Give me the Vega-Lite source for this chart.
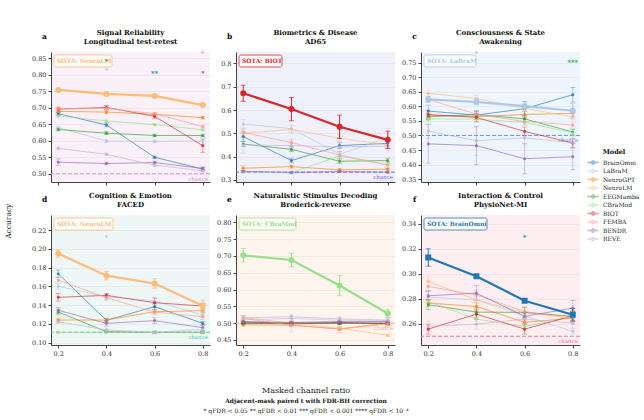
{
"$schema":"https://vega.github.io/schema/vega-lite/v6.json",
"padding":{"top":29,"left":5,"right":5,"bottom":5},
"config":{
 "font":"DejaVu Serif",
 "view":{"stroke":null},
 "axis":{"labelFontSize":6.5,"labelColor":"#333333","tickColor":"#444444","domainColor":"#444444","tickSize":3,"labelPadding":2,"labelOverlap":false,"gridColor":"#000000","gridOpacity":0.07,"gridWidth":0.6},
 "axisX":{"grid":false},
 "axisY":{"labelOverlap":false},
 "title":{"fontSize":7,"fontWeight":"bold","color":"#111111","offset":-13,"lineHeight":9}
},
"datasets":{
"acc":[
{"p":"a","m":"BrainOmni","x":0.2,"y":0.682,"e":0.004},{"p":"a","m":"BrainOmni","x":0.4,"y":0.648,"e":0.006},{"p":"a","m":"BrainOmni","x":0.6,"y":0.550,"e":0.004},{"p":"a","m":"BrainOmni","x":0.8,"y":0.514,"e":0.005},
{"p":"a","m":"LaBraM","x":0.2,"y":0.640,"e":0.004},{"p":"a","m":"LaBraM","x":0.4,"y":0.599,"e":0.004},{"p":"a","m":"LaBraM","x":0.6,"y":0.598,"e":0.004},{"p":"a","m":"LaBraM","x":0.8,"y":0.599,"e":0.01},
{"p":"a","m":"NeuroGPT","x":0.2,"y":0.689,"e":0.004},{"p":"a","m":"NeuroGPT","x":0.4,"y":0.687,"e":0.004},{"p":"a","m":"NeuroGPT","x":0.6,"y":0.680,"e":0.004},{"p":"a","m":"NeuroGPT","x":0.8,"y":0.670,"e":0.004},
{"p":"a","m":"NeuroLM","x":0.2,"y":0.754,"e":0.003},{"p":"a","m":"NeuroLM","x":0.4,"y":0.742,"e":0.003},{"p":"a","m":"NeuroLM","x":0.6,"y":0.736,"e":0.003},{"p":"a","m":"NeuroLM","x":0.8,"y":0.708,"e":0.003},
{"p":"a","m":"EEGMamba","x":0.2,"y":0.634,"e":0.004},{"p":"a","m":"EEGMamba","x":0.4,"y":0.623,"e":0.004},{"p":"a","m":"EEGMamba","x":0.6,"y":0.616,"e":0.004},{"p":"a","m":"EEGMamba","x":0.8,"y":0.616,"e":0.004},
{"p":"a","m":"CBraMod","x":0.2,"y":0.675,"e":0.003},{"p":"a","m":"CBraMod","x":0.4,"y":0.660,"e":0.003},{"p":"a","m":"CBraMod","x":0.6,"y":0.649,"e":0.003},{"p":"a","m":"CBraMod","x":0.8,"y":0.633,"e":0.003},
{"p":"a","m":"BIOT","x":0.2,"y":0.696,"e":0.006},{"p":"a","m":"BIOT","x":0.4,"y":0.701,"e":0.006},{"p":"a","m":"BIOT","x":0.6,"y":0.674,"e":0.006},{"p":"a","m":"BIOT","x":0.8,"y":0.585,"e":0.02},
{"p":"a","m":"FEMBA","x":0.2,"y":0.697,"e":0.004},{"p":"a","m":"FEMBA","x":0.4,"y":0.698,"e":0.004},{"p":"a","m":"FEMBA","x":0.6,"y":0.682,"e":0.004},{"p":"a","m":"FEMBA","x":0.8,"y":0.643,"e":0.004},
{"p":"a","m":"BENDR","x":0.2,"y":0.535,"e":0.01},{"p":"a","m":"BENDR","x":0.4,"y":0.531,"e":0.004},{"p":"a","m":"BENDR","x":0.6,"y":0.534,"e":0.004},{"p":"a","m":"BENDR","x":0.8,"y":0.516,"e":0.005},
{"p":"a","m":"REVE","x":0.2,"y":0.577,"e":0.004},{"p":"a","m":"REVE","x":0.4,"y":0.559,"e":0.004},{"p":"a","m":"REVE","x":0.6,"y":0.526,"e":0.004},{"p":"a","m":"REVE","x":0.8,"y":0.509,"e":0.004},
{"p":"b","m":"BrainOmni","x":0.2,"y":0.486,"e":0.02},{"p":"b","m":"BrainOmni","x":0.4,"y":0.383,"e":0.01},{"p":"b","m":"BrainOmni","x":0.6,"y":0.447,"e":0.012},{"p":"b","m":"BrainOmni","x":0.8,"y":0.457,"e":0.01},
{"p":"b","m":"LaBraM","x":0.2,"y":0.540,"e":0.02},{"p":"b","m":"LaBraM","x":0.4,"y":0.520,"e":0.015},{"p":"b","m":"LaBraM","x":0.6,"y":0.410,"e":0.01},{"p":"b","m":"LaBraM","x":0.8,"y":0.481,"e":0.04},
{"p":"b","m":"NeuroGPT","x":0.2,"y":0.350,"e":0.01},{"p":"b","m":"NeuroGPT","x":0.4,"y":0.357,"e":0.006},{"p":"b","m":"NeuroGPT","x":0.6,"y":0.343,"e":0.005},{"p":"b","m":"NeuroGPT","x":0.8,"y":0.346,"e":0.005},
{"p":"b","m":"NeuroLM","x":0.2,"y":0.500,"e":0.015},{"p":"b","m":"NeuroLM","x":0.4,"y":0.517,"e":0.015},{"p":"b","m":"NeuroLM","x":0.6,"y":0.479,"e":0.015},{"p":"b","m":"NeuroLM","x":0.8,"y":0.450,"e":0.015},
{"p":"b","m":"EEGMamba","x":0.2,"y":0.454,"e":0.01},{"p":"b","m":"EEGMamba","x":0.4,"y":0.431,"e":0.01},{"p":"b","m":"EEGMamba","x":0.6,"y":0.380,"e":0.01},{"p":"b","m":"EEGMamba","x":0.8,"y":0.383,"e":0.01},
{"p":"b","m":"CBraMod","x":0.2,"y":0.334,"e":0.005},{"p":"b","m":"CBraMod","x":0.4,"y":0.331,"e":0.005},{"p":"b","m":"CBraMod","x":0.6,"y":0.403,"e":0.005},{"p":"b","m":"CBraMod","x":0.8,"y":0.364,"e":0.005},
{"p":"b","m":"BIOT","x":0.2,"y":0.672,"e":0.034},{"p":"b","m":"BIOT","x":0.4,"y":0.604,"e":0.05},{"p":"b","m":"BIOT","x":0.6,"y":0.528,"e":0.05},{"p":"b","m":"BIOT","x":0.8,"y":0.472,"e":0.037},
{"p":"b","m":"FEMBA","x":0.2,"y":0.504,"e":0.015},{"p":"b","m":"FEMBA","x":0.4,"y":0.460,"e":0.015},{"p":"b","m":"FEMBA","x":0.6,"y":0.407,"e":0.015},{"p":"b","m":"FEMBA","x":0.8,"y":0.364,"e":0.015},
{"p":"b","m":"BENDR","x":0.2,"y":0.337,"e":0.004},{"p":"b","m":"BENDR","x":0.4,"y":0.332,"e":0.004},{"p":"b","m":"BENDR","x":0.6,"y":0.336,"e":0.004},{"p":"b","m":"BENDR","x":0.8,"y":0.333,"e":0.004},
{"p":"b","m":"REVE","x":0.2,"y":0.450,"e":0.035},{"p":"b","m":"REVE","x":0.4,"y":0.447,"e":0.02},{"p":"b","m":"REVE","x":0.6,"y":0.442,"e":0.02},{"p":"b","m":"REVE","x":0.8,"y":0.445,"e":0.02},
{"p":"c","m":"BrainOmni","x":0.2,"y":0.584,"e":0.02},{"p":"c","m":"BrainOmni","x":0.4,"y":0.570,"e":0.015},{"p":"c","m":"BrainOmni","x":0.6,"y":0.592,"e":0.025},{"p":"c","m":"BrainOmni","x":0.8,"y":0.640,"e":0.025},
{"p":"c","m":"LaBraM","x":0.2,"y":0.624,"e":0.01},{"p":"c","m":"LaBraM","x":0.4,"y":0.615,"e":0.01},{"p":"c","m":"LaBraM","x":0.6,"y":0.601,"e":0.015},{"p":"c","m":"LaBraM","x":0.8,"y":0.585,"e":0.025},
{"p":"c","m":"NeuroGPT","x":0.2,"y":0.570,"e":0.01},{"p":"c","m":"NeuroGPT","x":0.4,"y":0.565,"e":0.01},{"p":"c","m":"NeuroGPT","x":0.6,"y":0.572,"e":0.01},{"p":"c","m":"NeuroGPT","x":0.8,"y":0.576,"e":0.01},
{"p":"c","m":"NeuroLM","x":0.2,"y":0.645,"e":0.01},{"p":"c","m":"NeuroLM","x":0.4,"y":0.627,"e":0.01},{"p":"c","m":"NeuroLM","x":0.6,"y":0.593,"e":0.01},{"p":"c","m":"NeuroLM","x":0.8,"y":0.564,"e":0.01},
{"p":"c","m":"EEGMamba","x":0.2,"y":0.564,"e":0.01},{"p":"c","m":"EEGMamba","x":0.4,"y":0.572,"e":0.01},{"p":"c","m":"EEGMamba","x":0.6,"y":0.557,"e":0.01},{"p":"c","m":"EEGMamba","x":0.8,"y":0.512,"e":0.01},
{"p":"c","m":"CBraMod","x":0.2,"y":0.557,"e":0.01},{"p":"c","m":"CBraMod","x":0.4,"y":0.556,"e":0.01},{"p":"c","m":"CBraMod","x":0.6,"y":0.545,"e":0.01},{"p":"c","m":"CBraMod","x":0.8,"y":0.509,"e":0.01},
{"p":"c","m":"BIOT","x":0.2,"y":0.572,"e":0.015},{"p":"c","m":"BIOT","x":0.4,"y":0.562,"e":0.015},{"p":"c","m":"BIOT","x":0.6,"y":0.514,"e":0.015},{"p":"c","m":"BIOT","x":0.8,"y":0.474,"e":0.015},
{"p":"c","m":"FEMBA","x":0.2,"y":0.624,"e":0.01},{"p":"c","m":"FEMBA","x":0.4,"y":0.573,"e":0.01},{"p":"c","m":"FEMBA","x":0.6,"y":0.548,"e":0.01},{"p":"c","m":"FEMBA","x":0.8,"y":0.536,"e":0.01},
{"p":"c","m":"BENDR","x":0.2,"y":0.471,"e":0.066},{"p":"c","m":"BENDR","x":0.4,"y":0.465,"e":0.065},{"p":"c","m":"BENDR","x":0.6,"y":0.420,"e":0.052},{"p":"c","m":"BENDR","x":0.8,"y":0.427,"e":0.045},
{"p":"c","m":"REVE","x":0.2,"y":0.515,"e":0.025},{"p":"c","m":"REVE","x":0.4,"y":0.482,"e":0.05},{"p":"c","m":"REVE","x":0.6,"y":0.492,"e":0.025},{"p":"c","m":"REVE","x":0.8,"y":0.475,"e":0.02},
{"p":"d","m":"BrainOmni","x":0.2,"y":0.1734,"e":0.004},{"p":"d","m":"BrainOmni","x":0.4,"y":0.1238,"e":0.002},{"p":"d","m":"BrainOmni","x":0.6,"y":0.1383,"e":0.003},{"p":"d","m":"BrainOmni","x":0.8,"y":0.1206,"e":0.002},
{"p":"d","m":"LaBraM","x":0.2,"y":0.160,"e":0.003},{"p":"d","m":"LaBraM","x":0.4,"y":0.149,"e":0.003},{"p":"d","m":"LaBraM","x":0.6,"y":0.1444,"e":0.003},{"p":"d","m":"LaBraM","x":0.8,"y":0.1295,"e":0.003},
{"p":"d","m":"NeuroGPT","x":0.2,"y":0.1241,"e":0.002},{"p":"d","m":"NeuroGPT","x":0.4,"y":0.1241,"e":0.002},{"p":"d","m":"NeuroGPT","x":0.6,"y":0.133,"e":0.002},{"p":"d","m":"NeuroGPT","x":0.8,"y":0.1341,"e":0.002},
{"p":"d","m":"NeuroLM","x":0.2,"y":0.195,"e":0.004},{"p":"d","m":"NeuroLM","x":0.4,"y":0.1714,"e":0.0045},{"p":"d","m":"NeuroLM","x":0.6,"y":0.163,"e":0.005},{"p":"d","m":"NeuroLM","x":0.8,"y":0.1394,"e":0.006},
{"p":"d","m":"EEGMamba","x":0.2,"y":0.1327,"e":0.003},{"p":"d","m":"EEGMamba","x":0.4,"y":0.1117,"e":0.001},{"p":"d","m":"EEGMamba","x":0.6,"y":0.111,"e":0.001},{"p":"d","m":"EEGMamba","x":0.8,"y":0.111,"e":0.001},
{"p":"d","m":"CBraMod","x":0.2,"y":0.111,"e":0.001},{"p":"d","m":"CBraMod","x":0.4,"y":0.1112,"e":0.001},{"p":"d","m":"CBraMod","x":0.6,"y":0.111,"e":0.001},{"p":"d","m":"CBraMod","x":0.8,"y":0.111,"e":0.001},
{"p":"d","m":"BIOT","x":0.2,"y":0.1483,"e":0.004},{"p":"d","m":"BIOT","x":0.4,"y":0.1504,"e":0.002},{"p":"d","m":"BIOT","x":0.6,"y":0.1426,"e":0.005},{"p":"d","m":"BIOT","x":0.8,"y":0.139,"e":0.003},
{"p":"d","m":"FEMBA","x":0.2,"y":0.1667,"e":0.003},{"p":"d","m":"FEMBA","x":0.4,"y":0.1479,"e":0.003},{"p":"d","m":"FEMBA","x":0.6,"y":0.1326,"e":0.003},{"p":"d","m":"FEMBA","x":0.8,"y":0.1277,"e":0.003},
{"p":"d","m":"BENDR","x":0.2,"y":0.1344,"e":0.003},{"p":"d","m":"BENDR","x":0.4,"y":0.1206,"e":0.003},{"p":"d","m":"BENDR","x":0.6,"y":0.1234,"e":0.003},{"p":"d","m":"BENDR","x":0.8,"y":0.116,"e":0.003},
{"p":"d","m":"REVE","x":0.2,"y":0.1224,"e":0.002},{"p":"d","m":"REVE","x":0.4,"y":0.1135,"e":0.002},{"p":"d","m":"REVE","x":0.6,"y":0.111,"e":0.002},{"p":"d","m":"REVE","x":0.8,"y":0.114,"e":0.002},
{"p":"e","m":"BrainOmni","x":0.2,"y":0.500,"e":0.004},{"p":"e","m":"BrainOmni","x":0.4,"y":0.498,"e":0.004},{"p":"e","m":"BrainOmni","x":0.6,"y":0.500,"e":0.004},{"p":"e","m":"BrainOmni","x":0.8,"y":0.500,"e":0.004},
{"p":"e","m":"LaBraM","x":0.2,"y":0.511,"e":0.008},{"p":"e","m":"LaBraM","x":0.4,"y":0.514,"e":0.008},{"p":"e","m":"LaBraM","x":0.6,"y":0.509,"e":0.008},{"p":"e","m":"LaBraM","x":0.8,"y":0.508,"e":0.008},
{"p":"e","m":"NeuroGPT","x":0.2,"y":0.495,"e":0.004},{"p":"e","m":"NeuroGPT","x":0.4,"y":0.494,"e":0.004},{"p":"e","m":"NeuroGPT","x":0.6,"y":0.483,"e":0.004},{"p":"e","m":"NeuroGPT","x":0.8,"y":0.500,"e":0.004},
{"p":"e","m":"NeuroLM","x":0.2,"y":0.517,"e":0.006},{"p":"e","m":"NeuroLM","x":0.4,"y":0.500,"e":0.006},{"p":"e","m":"NeuroLM","x":0.6,"y":0.485,"e":0.006},{"p":"e","m":"NeuroLM","x":0.8,"y":0.464,"e":0.003},
{"p":"e","m":"EEGMamba","x":0.2,"y":0.500,"e":0.003},{"p":"e","m":"EEGMamba","x":0.4,"y":0.500,"e":0.003},{"p":"e","m":"EEGMamba","x":0.6,"y":0.500,"e":0.003},{"p":"e","m":"EEGMamba","x":0.8,"y":0.500,"e":0.003},
{"p":"e","m":"CBraMod","x":0.2,"y":0.702,"e":0.02},{"p":"e","m":"CBraMod","x":0.4,"y":0.688,"e":0.02},{"p":"e","m":"CBraMod","x":0.6,"y":0.612,"e":0.03},{"p":"e","m":"CBraMod","x":0.8,"y":0.529,"e":0.012},
{"p":"e","m":"BIOT","x":0.2,"y":0.503,"e":0.004},{"p":"e","m":"BIOT","x":0.4,"y":0.500,"e":0.004},{"p":"e","m":"BIOT","x":0.6,"y":0.502,"e":0.004},{"p":"e","m":"BIOT","x":0.8,"y":0.498,"e":0.004},
{"p":"e","m":"FEMBA","x":0.2,"y":0.514,"e":0.008},{"p":"e","m":"FEMBA","x":0.4,"y":0.494,"e":0.02},{"p":"e","m":"FEMBA","x":0.6,"y":0.482,"e":0.01},{"p":"e","m":"FEMBA","x":0.8,"y":0.498,"e":0.008},
{"p":"e","m":"BENDR","x":0.2,"y":0.505,"e":0.004},{"p":"e","m":"BENDR","x":0.4,"y":0.502,"e":0.004},{"p":"e","m":"BENDR","x":0.6,"y":0.505,"e":0.004},{"p":"e","m":"BENDR","x":0.8,"y":0.505,"e":0.004},
{"p":"e","m":"REVE","x":0.2,"y":0.516,"e":0.006},{"p":"e","m":"REVE","x":0.4,"y":0.519,"e":0.006},{"p":"e","m":"REVE","x":0.6,"y":0.513,"e":0.006},{"p":"e","m":"REVE","x":0.8,"y":0.509,"e":0.006},
{"p":"f","m":"BrainOmni","x":0.2,"y":0.313,"e":0.007},{"p":"f","m":"BrainOmni","x":0.4,"y":0.298,"e":0.001},{"p":"f","m":"BrainOmni","x":0.6,"y":0.2784,"e":0.001},{"p":"f","m":"BrainOmni","x":0.8,"y":0.2672,"e":0.005},
{"p":"f","m":"LaBraM","x":0.2,"y":0.2813,"e":0.005},{"p":"f","m":"LaBraM","x":0.4,"y":0.2792,"e":0.003},{"p":"f","m":"LaBraM","x":0.6,"y":0.2664,"e":0.003},{"p":"f","m":"LaBraM","x":0.8,"y":0.2539,"e":0.002},
{"p":"f","m":"NeuroGPT","x":0.2,"y":0.2765,"e":0.003},{"p":"f","m":"NeuroGPT","x":0.4,"y":0.2739,"e":0.003},{"p":"f","m":"NeuroGPT","x":0.6,"y":0.2611,"e":0.003},{"p":"f","m":"NeuroGPT","x":0.8,"y":0.2645,"e":0.003},
{"p":"f","m":"NeuroLM","x":0.2,"y":0.2941,"e":0.004},{"p":"f","m":"NeuroLM","x":0.4,"y":0.279,"e":0.004},{"p":"f","m":"NeuroLM","x":0.6,"y":0.2688,"e":0.004},{"p":"f","m":"NeuroLM","x":0.8,"y":0.2656,"e":0.004},
{"p":"f","m":"EEGMamba","x":0.2,"y":0.2752,"e":0.004},{"p":"f","m":"EEGMamba","x":0.4,"y":0.2693,"e":0.004},{"p":"f","m":"EEGMamba","x":0.6,"y":0.2691,"e":0.004},{"p":"f","m":"EEGMamba","x":0.8,"y":0.2659,"e":0.004},
{"p":"f","m":"CBraMod","x":0.2,"y":0.2779,"e":0.004},{"p":"f","m":"CBraMod","x":0.4,"y":0.2637,"e":0.004},{"p":"f","m":"CBraMod","x":0.6,"y":0.2579,"e":0.004},{"p":"f","m":"CBraMod","x":0.8,"y":0.2653,"e":0.004},
{"p":"f","m":"BIOT","x":0.2,"y":0.2557,"e":0.004},{"p":"f","m":"BIOT","x":0.4,"y":0.2677,"e":0.004},{"p":"f","m":"BIOT","x":0.6,"y":0.2557,"e":0.004},{"p":"f","m":"BIOT","x":0.8,"y":0.2664,"e":0.004},
{"p":"f","m":"FEMBA","x":0.2,"y":0.2899,"e":0.004},{"p":"f","m":"FEMBA","x":0.4,"y":0.283,"e":0.004},{"p":"f","m":"FEMBA","x":0.6,"y":0.2699,"e":0.004},{"p":"f","m":"FEMBA","x":0.8,"y":0.2637,"e":0.004},
{"p":"f","m":"BENDR","x":0.2,"y":0.2824,"e":0.004},{"p":"f","m":"BENDR","x":0.4,"y":0.2845,"e":0.006},{"p":"f","m":"BENDR","x":0.6,"y":0.2659,"e":0.003},{"p":"f","m":"BENDR","x":0.8,"y":0.2725,"e":0.006},
{"p":"f","m":"REVE","x":0.2,"y":0.2579,"e":0.004},{"p":"f","m":"REVE","x":0.4,"y":0.2597,"e":0.004},{"p":"f","m":"REVE","x":0.6,"y":0.2637,"e":0.004},{"p":"f","m":"REVE","x":0.8,"y":0.2605,"e":0.004}
],
"stars":[
{"p":"a","m":"EEGMamba","x":0.4,"y":0.838,"s":"*"},
{"p":"a","m":"LaBraM","x":0.4,"y":0.812,"s":"*"},
{"p":"a","m":"BrainOmni","x":0.6,"y":0.802,"s":"**"},
{"p":"a","m":"BrainOmni","x":0.8,"y":0.802,"s":"*"},
{"p":"a","m":"FEMBA","x":0.8,"y":0.864,"s":"*"},
{"p":"c","m":"EEGMamba","x":0.8,"y":0.75,"s":"***"},
{"p":"c","m":"FEMBA","x":0.4,"y":0.78,"s":"*"},
{"p":"d","m":"LaBraM","x":0.4,"y":0.212,"s":"*"},
{"p":"f","m":"BrainOmni","x":0.6,"y":0.329,"s":"*"}
]
},
"title":{"text":"Accuracy","orient":"left","anchor":"middle","fontSize":7.5,"fontWeight":"normal","color":"#222222","offset":19},
"vconcat":[{
 "title":{"text":"*  qFDR < 0.05      **  qFDR < 0.01      ***  qFDR < 0.001      ****  qFDR < 10⁻⁴","orient":"bottom","anchor":"middle","fontSize":6,"fontWeight":"normal","color":"#222222","offset":4},
 "vconcat":[{
  "title":{"text":"Masked channel ratio","subtitle":"Adjacent-mask paired t with FDR-BH correction","orient":"bottom","anchor":"middle","fontSize":8,"fontWeight":"normal","color":"#222222","subtitleFontSize":6,"subtitleFontWeight":"bold","subtitleColor":"#111111","subtitlePadding":3,"offset":30},
  "columns":3,"spacing":{"row":33,"column":26},"bounds":"flush",
  "concat":[
   {"width":159,"height":130,"view":{"fill":"#f9f0f8","stroke":null},
    "title":{"text":["Signal Reliability","Longitudinal test-retest"]},
    "layer":[
     {"data":{"values":[{}]},"mark":{"type":"rule","strokeDash":[4,2],"strokeWidth":1,"color":"#e48fd4"},"encoding":{"y":{"datum":0.5,"type":"quantitative","scale":{"domain":[0.475,0.869],"nice":false,"zero":false},"axis":{"values":[0.5,0.55,0.6,0.65,0.7,0.75,0.8,0.85],"tickCount":8,"format":".2f","labelOverlap":false,"grid":true,"title":"a","titleAngle":0,"titleX":-7,"titleY":-16,"titleFontWeight":"bold","titleFontSize":7.5,"titleAlign":"center","titleBaseline":"middle"}}}},
     {"data":{"values":[{}]},"mark":{"type":"text","text":"chance","align":"right","baseline":"middle","dx":-2,"dy":5,"fontSize":5.5,"color":"#e48fd4"},"encoding":{"x":{"datum":0.83,"type":"quantitative"},"y":{"datum":0.5,"type":"quantitative"}}},
     {"data":{"name":"acc"},"transform":[{"filter":"datum.p==='a' && datum.m!=='NeuroLM'"}],"mark":{"type":"errorbar","ticks":true,"opacity":0.45,"thickness":0.8},
      "encoding":{"x":{"field":"x","type":"quantitative","title":null},"y":{"field":"y","type":"quantitative","title":"a"},"yError":{"field":"e"},"color":{"field":"m","type":"nominal","scale":{"domain":["BrainOmni","LaBraM","NeuroGPT","NeuroLM","EEGMamba","CBraMod","BIOT","FEMBA","BENDR","REVE"],"range":["#1f77b4","#aec7e8","#ff7f0e","#ffbb78","#2ca02c","#98df8a","#d62728","#ff9896","#9467bd","#c5b0d5"]}}}},
     {"data":{"name":"acc"},"transform":[{"filter":"datum.p==='a' && datum.m!=='NeuroLM'"}],"mark":{"type":"line","strokeWidth":1,"opacity":0.65},
      "encoding":{"x":{"field":"x","type":"quantitative","title":null,"scale":{"domain":[0.17,0.83],"nice":false,"zero":false},"axis":{"values":[0.2,0.4,0.6,0.8],"format":".1f","labels":false,"title":null}},
       "y":{"field":"y","type":"quantitative","title":"a","axis":{"values":[0.5,0.55,0.6,0.65,0.7,0.75,0.8,0.85],"tickCount":8,"format":".2f","labelOverlap":false,"grid":true,"title":"a","titleAngle":0,"titleX":-7,"titleY":-16,"titleFontWeight":"bold","titleFontSize":7.5,"titleAlign":"center","titleBaseline":"middle"}},
       "color":{"field":"m","type":"nominal","scale":{"domain":["BrainOmni","LaBraM","NeuroGPT","NeuroLM","EEGMamba","CBraMod","BIOT","FEMBA","BENDR","REVE"],"range":["#1f77b4","#aec7e8","#ff7f0e","#ffbb78","#2ca02c","#98df8a","#d62728","#ff9896","#9467bd","#c5b0d5"]}}}},
     {"data":{"name":"acc"},"transform":[{"filter":"datum.p==='a' && datum.m!=='NeuroLM'"}],"mark":{"type":"point","filled":true,"size":10,"opacity":0.8},
      "encoding":{"x":{"field":"x","type":"quantitative","title":null},"y":{"field":"y","type":"quantitative","title":"a"},
       "color":{"field":"m","type":"nominal","scale":{"domain":["BrainOmni","LaBraM","NeuroGPT","NeuroLM","EEGMamba","CBraMod","BIOT","FEMBA","BENDR","REVE"],"range":["#1f77b4","#aec7e8","#ff7f0e","#ffbb78","#2ca02c","#98df8a","#d62728","#ff9896","#9467bd","#c5b0d5"]},
        "legend":{"title":"Model","orient":"none","legendX":538,"legendY":97,"symbolType":"M-1.5,-0.12H1.5V0.12H-1.5Z M0.6,0A0.6,0.6,0,1,1,-0.6,0A0.6,0.6,0,1,1,0.6,0Z","symbolSize":49,"symbolOpacity":1,"symbolStrokeWidth":0.8,"labelFontSize":6,"titleFontSize":6.5,"titleFontWeight":"bold","titleAnchor":"middle","rowPadding":0.5,"labelOffset":6,"titlePadding":3,"labelColor":"#222222","titleColor":"#111111"}}}},
     {"data":{"name":"acc"},"transform":[{"filter":"datum.p==='a' && datum.m==='NeuroLM'"}],"mark":{"type":"errorbar","ticks":true,"thickness":1},
      "encoding":{"x":{"field":"x","type":"quantitative","title":null},"y":{"field":"y","type":"quantitative","title":"a"},"yError":{"field":"e"},"color":{"field":"m","type":"nominal","scale":{"domain":["BrainOmni","LaBraM","NeuroGPT","NeuroLM","EEGMamba","CBraMod","BIOT","FEMBA","BENDR","REVE"],"range":["#1f77b4","#aec7e8","#ff7f0e","#ffbb78","#2ca02c","#98df8a","#d62728","#ff9896","#9467bd","#c5b0d5"]}}}},
     {"data":{"name":"acc"},"transform":[{"filter":"datum.p==='a' && datum.m==='NeuroLM'"}],"mark":{"type":"line","strokeWidth":2.2},
      "encoding":{"x":{"field":"x","type":"quantitative","title":null},"y":{"field":"y","type":"quantitative","title":"a"},"color":{"field":"m","type":"nominal","scale":{"domain":["BrainOmni","LaBraM","NeuroGPT","NeuroLM","EEGMamba","CBraMod","BIOT","FEMBA","BENDR","REVE"],"range":["#1f77b4","#aec7e8","#ff7f0e","#ffbb78","#2ca02c","#98df8a","#d62728","#ff9896","#9467bd","#c5b0d5"]}}}},
     {"data":{"name":"acc"},"transform":[{"filter":"datum.p==='a' && datum.m==='NeuroLM'"}],"mark":{"type":"point","filled":true,"size":36,"opacity":1},
      "encoding":{"x":{"field":"x","type":"quantitative","title":null},"y":{"field":"y","type":"quantitative","title":"a"},"color":{"field":"m","type":"nominal","scale":{"domain":["BrainOmni","LaBraM","NeuroGPT","NeuroLM","EEGMamba","CBraMod","BIOT","FEMBA","BENDR","REVE"],"range":["#1f77b4","#aec7e8","#ff7f0e","#ffbb78","#2ca02c","#98df8a","#d62728","#ff9896","#9467bd","#c5b0d5"]}}}},
     {"data":{"values":[{}]},"mark":{"type":"rect","fill":"#ffffff","fillOpacity":0.8,"stroke":"#ffbb78","strokeWidth":0.8,"cornerRadius":2},"encoding":{"x":{"datum":0.1825,"type":"quantitative"},"x2":{"datum":0.423},"y":{"datum":0.860,"type":"quantitative"},"y2":{"datum":0.8235}}},
     {"data":{"values":[{}]},"mark":{"type":"text","text":"SOTA: NeuroLM","align":"left","baseline":"middle","dx":3,"fontSize":6,"fontWeight":"bold","color":"#ffbb78"},"encoding":{"x":{"datum":0.1825,"type":"quantitative"},"y":{"datum":0.842,"type":"quantitative"}}},
     {"data":{"name":"stars"},"transform":[{"filter":"datum.p==='a'"}],"mark":{"type":"text","fontSize":7,"baseline":"middle","align":"center"},
      "encoding":{"x":{"field":"x","type":"quantitative","title":null},"y":{"field":"y","type":"quantitative","title":"a"},"text":{"field":"s"},"color":{"field":"m","type":"nominal","scale":{"domain":["BrainOmni","LaBraM","NeuroGPT","NeuroLM","EEGMamba","CBraMod","BIOT","FEMBA","BENDR","REVE"],"range":["#1f77b4","#aec7e8","#ff7f0e","#ffbb78","#2ca02c","#98df8a","#d62728","#ff9896","#9467bd","#c5b0d5"]}}}}
    ]},
   {"width":159,"height":130,"view":{"fill":"#f0f0fa","stroke":null},
    "title":{"text":["Biometrics & Disease","AD65"]},
    "layer":[
     {"data":{"values":[{}]},"mark":{"type":"rule","strokeDash":[4,2],"strokeWidth":1,"color":"#6a6ae0"},"encoding":{"y":{"datum":0.3333,"type":"quantitative","scale":{"domain":[0.291,0.849],"nice":false,"zero":false},"axis":{"values":[0.3,0.4,0.5,0.6,0.7,0.8],"tickCount":6,"format":".1f","labelOverlap":false,"grid":true,"title":"b","titleAngle":0,"titleX":-7,"titleY":-16,"titleFontWeight":"bold","titleFontSize":7.5,"titleAlign":"center","titleBaseline":"middle"}}}},
     {"data":{"values":[{}]},"mark":{"type":"text","text":"chance","align":"right","baseline":"middle","dx":-2,"dy":5,"fontSize":5.5,"color":"#6a6ae0"},"encoding":{"x":{"datum":0.83,"type":"quantitative"},"y":{"datum":0.3333,"type":"quantitative"}}},
     {"data":{"name":"acc"},"transform":[{"filter":"datum.p==='b' && datum.m!=='BIOT'"}],"mark":{"type":"errorbar","ticks":true,"opacity":0.45,"thickness":0.8},
      "encoding":{"x":{"field":"x","type":"quantitative","title":null},"y":{"field":"y","type":"quantitative","title":"b"},"yError":{"field":"e"},"color":{"field":"m","type":"nominal","scale":{"domain":["BrainOmni","LaBraM","NeuroGPT","NeuroLM","EEGMamba","CBraMod","BIOT","FEMBA","BENDR","REVE"],"range":["#1f77b4","#aec7e8","#ff7f0e","#ffbb78","#2ca02c","#98df8a","#d62728","#ff9896","#9467bd","#c5b0d5"]}}}},
     {"data":{"name":"acc"},"transform":[{"filter":"datum.p==='b' && datum.m!=='BIOT'"}],"mark":{"type":"line","strokeWidth":1,"opacity":0.65},
      "encoding":{"x":{"field":"x","type":"quantitative","title":null,"scale":{"domain":[0.17,0.83],"nice":false,"zero":false},"axis":{"values":[0.2,0.4,0.6,0.8],"format":".1f","labels":false,"title":null}},
       "y":{"field":"y","type":"quantitative","title":"b","axis":{"values":[0.3,0.4,0.5,0.6,0.7,0.8],"tickCount":6,"format":".1f","labelOverlap":false,"grid":true,"title":"b","titleAngle":0,"titleX":-7,"titleY":-16,"titleFontWeight":"bold","titleFontSize":7.5,"titleAlign":"center","titleBaseline":"middle"}},
       "color":{"field":"m","type":"nominal","scale":{"domain":["BrainOmni","LaBraM","NeuroGPT","NeuroLM","EEGMamba","CBraMod","BIOT","FEMBA","BENDR","REVE"],"range":["#1f77b4","#aec7e8","#ff7f0e","#ffbb78","#2ca02c","#98df8a","#d62728","#ff9896","#9467bd","#c5b0d5"]}}}},
     {"data":{"name":"acc"},"transform":[{"filter":"datum.p==='b' && datum.m!=='BIOT'"}],"mark":{"type":"point","filled":true,"size":10,"opacity":0.8},
      "encoding":{"x":{"field":"x","type":"quantitative","title":null},"y":{"field":"y","type":"quantitative","title":"b"},"color":{"field":"m","type":"nominal","scale":{"domain":["BrainOmni","LaBraM","NeuroGPT","NeuroLM","EEGMamba","CBraMod","BIOT","FEMBA","BENDR","REVE"],"range":["#1f77b4","#aec7e8","#ff7f0e","#ffbb78","#2ca02c","#98df8a","#d62728","#ff9896","#9467bd","#c5b0d5"]}}}},
     {"data":{"name":"acc"},"transform":[{"filter":"datum.p==='b' && datum.m==='BIOT'"}],"mark":{"type":"errorbar","ticks":true,"thickness":1},
      "encoding":{"x":{"field":"x","type":"quantitative","title":null},"y":{"field":"y","type":"quantitative","title":"b"},"yError":{"field":"e"},"color":{"field":"m","type":"nominal","scale":{"domain":["BrainOmni","LaBraM","NeuroGPT","NeuroLM","EEGMamba","CBraMod","BIOT","FEMBA","BENDR","REVE"],"range":["#1f77b4","#aec7e8","#ff7f0e","#ffbb78","#2ca02c","#98df8a","#d62728","#ff9896","#9467bd","#c5b0d5"]}}}},
     {"data":{"name":"acc"},"transform":[{"filter":"datum.p==='b' && datum.m==='BIOT'"}],"mark":{"type":"line","strokeWidth":2.2},
      "encoding":{"x":{"field":"x","type":"quantitative","title":null},"y":{"field":"y","type":"quantitative","title":"b"},"color":{"field":"m","type":"nominal","scale":{"domain":["BrainOmni","LaBraM","NeuroGPT","NeuroLM","EEGMamba","CBraMod","BIOT","FEMBA","BENDR","REVE"],"range":["#1f77b4","#aec7e8","#ff7f0e","#ffbb78","#2ca02c","#98df8a","#d62728","#ff9896","#9467bd","#c5b0d5"]}}}},
     {"data":{"name":"acc"},"transform":[{"filter":"datum.p==='b' && datum.m==='BIOT'"}],"mark":{"type":"point","filled":true,"size":36,"opacity":1},
      "encoding":{"x":{"field":"x","type":"quantitative","title":null},"y":{"field":"y","type":"quantitative","title":"b"},"color":{"field":"m","type":"nominal","scale":{"domain":["BrainOmni","LaBraM","NeuroGPT","NeuroLM","EEGMamba","CBraMod","BIOT","FEMBA","BENDR","REVE"],"range":["#1f77b4","#aec7e8","#ff7f0e","#ffbb78","#2ca02c","#98df8a","#d62728","#ff9896","#9467bd","#c5b0d5"]}}}},
     {"data":{"values":[{}]},"mark":{"type":"rect","fill":"#ffffff","fillOpacity":0.8,"stroke":"#d62728","strokeWidth":0.8,"cornerRadius":2},"encoding":{"x":{"datum":0.1825,"type":"quantitative"},"x2":{"datum":0.361},"y":{"datum":0.836,"type":"quantitative"},"y2":{"datum":0.7846}}},
     {"data":{"values":[{}]},"mark":{"type":"text","text":"SOTA: BIOT","align":"left","baseline":"middle","dx":3,"fontSize":6,"fontWeight":"bold","color":"#d62728"},"encoding":{"x":{"datum":0.1825,"type":"quantitative"},"y":{"datum":0.8103,"type":"quantitative"}}}
    ]},
   {"width":159,"height":130,"view":{"fill":"#eef5fd","stroke":null},
    "title":{"text":["Consciousness & State","Awakening"]},
    "layer":[
     {"data":{"values":[{}]},"mark":{"type":"rule","strokeDash":[4,2],"strokeWidth":1,"color":"#5f9ef0"},"encoding":{"y":{"datum":0.5,"type":"quantitative","scale":{"domain":[0.34,0.787],"nice":false,"zero":false},"axis":{"values":[0.35,0.4,0.45,0.5,0.55,0.6,0.65,0.7,0.75],"tickCount":9,"format":".2f","labelOverlap":false,"grid":true,"title":"c","titleAngle":0,"titleX":-7,"titleY":-16,"titleFontWeight":"bold","titleFontSize":7.5,"titleAlign":"center","titleBaseline":"middle"}}}},
     {"data":{"values":[{}]},"mark":{"type":"text","text":"chance","align":"right","baseline":"middle","dx":-2,"dy":5,"fontSize":5.5,"color":"#5f9ef0"},"encoding":{"x":{"datum":0.83,"type":"quantitative"},"y":{"datum":0.5,"type":"quantitative"}}},
     {"data":{"name":"acc"},"transform":[{"filter":"datum.p==='c' && datum.m!=='LaBraM'"}],"mark":{"type":"errorbar","ticks":true,"opacity":0.45,"thickness":0.8},
      "encoding":{"x":{"field":"x","type":"quantitative","title":null},"y":{"field":"y","type":"quantitative","title":"c"},"yError":{"field":"e"},"color":{"field":"m","type":"nominal","scale":{"domain":["BrainOmni","LaBraM","NeuroGPT","NeuroLM","EEGMamba","CBraMod","BIOT","FEMBA","BENDR","REVE"],"range":["#1f77b4","#aec7e8","#ff7f0e","#ffbb78","#2ca02c","#98df8a","#d62728","#ff9896","#9467bd","#c5b0d5"]}}}},
     {"data":{"name":"acc"},"transform":[{"filter":"datum.p==='c' && datum.m!=='LaBraM'"}],"mark":{"type":"line","strokeWidth":1,"opacity":0.65},
      "encoding":{"x":{"field":"x","type":"quantitative","title":null,"scale":{"domain":[0.17,0.83],"nice":false,"zero":false},"axis":{"values":[0.2,0.4,0.6,0.8],"format":".1f","labels":false,"title":null}},
       "y":{"field":"y","type":"quantitative","title":"c","axis":{"values":[0.35,0.4,0.45,0.5,0.55,0.6,0.65,0.7,0.75],"tickCount":9,"format":".2f","labelOverlap":false,"grid":true,"title":"c","titleAngle":0,"titleX":-7,"titleY":-16,"titleFontWeight":"bold","titleFontSize":7.5,"titleAlign":"center","titleBaseline":"middle"}},
       "color":{"field":"m","type":"nominal","scale":{"domain":["BrainOmni","LaBraM","NeuroGPT","NeuroLM","EEGMamba","CBraMod","BIOT","FEMBA","BENDR","REVE"],"range":["#1f77b4","#aec7e8","#ff7f0e","#ffbb78","#2ca02c","#98df8a","#d62728","#ff9896","#9467bd","#c5b0d5"]}}}},
     {"data":{"name":"acc"},"transform":[{"filter":"datum.p==='c' && datum.m!=='LaBraM'"}],"mark":{"type":"point","filled":true,"size":10,"opacity":0.8},
      "encoding":{"x":{"field":"x","type":"quantitative","title":null},"y":{"field":"y","type":"quantitative","title":"c"},"color":{"field":"m","type":"nominal","scale":{"domain":["BrainOmni","LaBraM","NeuroGPT","NeuroLM","EEGMamba","CBraMod","BIOT","FEMBA","BENDR","REVE"],"range":["#1f77b4","#aec7e8","#ff7f0e","#ffbb78","#2ca02c","#98df8a","#d62728","#ff9896","#9467bd","#c5b0d5"]}}}},
     {"data":{"name":"acc"},"transform":[{"filter":"datum.p==='c' && datum.m==='LaBraM'"}],"mark":{"type":"errorbar","ticks":true,"thickness":1},
      "encoding":{"x":{"field":"x","type":"quantitative","title":null},"y":{"field":"y","type":"quantitative","title":"c"},"yError":{"field":"e"},"color":{"field":"m","type":"nominal","scale":{"domain":["BrainOmni","LaBraM","NeuroGPT","NeuroLM","EEGMamba","CBraMod","BIOT","FEMBA","BENDR","REVE"],"range":["#1f77b4","#aec7e8","#ff7f0e","#ffbb78","#2ca02c","#98df8a","#d62728","#ff9896","#9467bd","#c5b0d5"]}}}},
     {"data":{"name":"acc"},"transform":[{"filter":"datum.p==='c' && datum.m==='LaBraM'"}],"mark":{"type":"line","strokeWidth":2.2},
      "encoding":{"x":{"field":"x","type":"quantitative","title":null},"y":{"field":"y","type":"quantitative","title":"c"},"color":{"field":"m","type":"nominal","scale":{"domain":["BrainOmni","LaBraM","NeuroGPT","NeuroLM","EEGMamba","CBraMod","BIOT","FEMBA","BENDR","REVE"],"range":["#1f77b4","#aec7e8","#ff7f0e","#ffbb78","#2ca02c","#98df8a","#d62728","#ff9896","#9467bd","#c5b0d5"]}}}},
     {"data":{"name":"acc"},"transform":[{"filter":"datum.p==='c' && datum.m==='LaBraM'"}],"mark":{"type":"point","filled":true,"size":36,"opacity":1},
      "encoding":{"x":{"field":"x","type":"quantitative","title":null},"y":{"field":"y","type":"quantitative","title":"c"},"color":{"field":"m","type":"nominal","scale":{"domain":["BrainOmni","LaBraM","NeuroGPT","NeuroLM","EEGMamba","CBraMod","BIOT","FEMBA","BENDR","REVE"],"range":["#1f77b4","#aec7e8","#ff7f0e","#ffbb78","#2ca02c","#98df8a","#d62728","#ff9896","#9467bd","#c5b0d5"]}}}},
     {"data":{"values":[{}]},"mark":{"type":"rect","fill":"#ffffff","fillOpacity":0.8,"stroke":"#aec7e8","strokeWidth":0.8,"cornerRadius":2},"encoding":{"x":{"datum":0.1825,"type":"quantitative"},"x2":{"datum":0.398},"y":{"datum":0.7767,"type":"quantitative"},"y2":{"datum":0.7354}}},
     {"data":{"values":[{}]},"mark":{"type":"text","text":"SOTA: LaBraM","align":"left","baseline":"middle","dx":3,"fontSize":6,"fontWeight":"bold","color":"#aec7e8"},"encoding":{"x":{"datum":0.1825,"type":"quantitative"},"y":{"datum":0.756,"type":"quantitative"}}},
     {"data":{"name":"stars"},"transform":[{"filter":"datum.p==='c'"}],"mark":{"type":"text","fontSize":7,"baseline":"middle","align":"center"},
      "encoding":{"x":{"field":"x","type":"quantitative","title":null},"y":{"field":"y","type":"quantitative","title":"c"},"text":{"field":"s"},"color":{"field":"m","type":"nominal","scale":{"domain":["BrainOmni","LaBraM","NeuroGPT","NeuroLM","EEGMamba","CBraMod","BIOT","FEMBA","BENDR","REVE"],"range":["#1f77b4","#aec7e8","#ff7f0e","#ffbb78","#2ca02c","#98df8a","#d62728","#ff9896","#9467bd","#c5b0d5"]}}}}
    ]},
   {"width":159,"height":130,"view":{"fill":"#eef7f5","stroke":null},
    "title":{"text":["Cognition & Emotion","FACED"]},
    "layer":[
     {"data":{"values":[{}]},"mark":{"type":"rule","strokeDash":[4,2],"strokeWidth":1,"color":"#4ec9b8"},"encoding":{"y":{"datum":0.1111,"type":"quantitative","scale":{"domain":[0.0975,0.236],"nice":false,"zero":false},"axis":{"values":[0.1,0.12,0.14,0.16,0.18,0.2,0.22],"tickCount":7,"format":".2f","labelOverlap":false,"grid":true,"title":"d","titleAngle":0,"titleX":-7,"titleY":-16,"titleFontWeight":"bold","titleFontSize":7.5,"titleAlign":"center","titleBaseline":"middle"}}}},
     {"data":{"values":[{}]},"mark":{"type":"text","text":"chance","align":"right","baseline":"middle","dx":-2,"dy":5,"fontSize":5.5,"color":"#4ec9b8"},"encoding":{"x":{"datum":0.83,"type":"quantitative"},"y":{"datum":0.1111,"type":"quantitative"}}},
     {"data":{"name":"acc"},"transform":[{"filter":"datum.p==='d' && datum.m!=='NeuroLM'"}],"mark":{"type":"errorbar","ticks":true,"opacity":0.45,"thickness":0.8},
      "encoding":{"x":{"field":"x","type":"quantitative","title":null},"y":{"field":"y","type":"quantitative","title":"d"},"yError":{"field":"e"},"color":{"field":"m","type":"nominal","scale":{"domain":["BrainOmni","LaBraM","NeuroGPT","NeuroLM","EEGMamba","CBraMod","BIOT","FEMBA","BENDR","REVE"],"range":["#1f77b4","#aec7e8","#ff7f0e","#ffbb78","#2ca02c","#98df8a","#d62728","#ff9896","#9467bd","#c5b0d5"]}}}},
     {"data":{"name":"acc"},"transform":[{"filter":"datum.p==='d' && datum.m!=='NeuroLM'"}],"mark":{"type":"line","strokeWidth":1,"opacity":0.65},
      "encoding":{"x":{"field":"x","type":"quantitative","title":null,"scale":{"domain":[0.17,0.83],"nice":false,"zero":false},"axis":{"values":[0.2,0.4,0.6,0.8],"format":".1f","title":null}},
       "y":{"field":"y","type":"quantitative","title":"d","axis":{"values":[0.1,0.12,0.14,0.16,0.18,0.2,0.22],"tickCount":7,"format":".2f","labelOverlap":false,"grid":true,"title":"d","titleAngle":0,"titleX":-7,"titleY":-16,"titleFontWeight":"bold","titleFontSize":7.5,"titleAlign":"center","titleBaseline":"middle"}},
       "color":{"field":"m","type":"nominal","scale":{"domain":["BrainOmni","LaBraM","NeuroGPT","NeuroLM","EEGMamba","CBraMod","BIOT","FEMBA","BENDR","REVE"],"range":["#1f77b4","#aec7e8","#ff7f0e","#ffbb78","#2ca02c","#98df8a","#d62728","#ff9896","#9467bd","#c5b0d5"]}}}},
     {"data":{"name":"acc"},"transform":[{"filter":"datum.p==='d' && datum.m!=='NeuroLM'"}],"mark":{"type":"point","filled":true,"size":10,"opacity":0.8},
      "encoding":{"x":{"field":"x","type":"quantitative","title":null},"y":{"field":"y","type":"quantitative","title":"d"},"color":{"field":"m","type":"nominal","scale":{"domain":["BrainOmni","LaBraM","NeuroGPT","NeuroLM","EEGMamba","CBraMod","BIOT","FEMBA","BENDR","REVE"],"range":["#1f77b4","#aec7e8","#ff7f0e","#ffbb78","#2ca02c","#98df8a","#d62728","#ff9896","#9467bd","#c5b0d5"]}}}},
     {"data":{"name":"acc"},"transform":[{"filter":"datum.p==='d' && datum.m==='NeuroLM'"}],"mark":{"type":"errorbar","ticks":true,"thickness":1},
      "encoding":{"x":{"field":"x","type":"quantitative","title":null},"y":{"field":"y","type":"quantitative","title":"d"},"yError":{"field":"e"},"color":{"field":"m","type":"nominal","scale":{"domain":["BrainOmni","LaBraM","NeuroGPT","NeuroLM","EEGMamba","CBraMod","BIOT","FEMBA","BENDR","REVE"],"range":["#1f77b4","#aec7e8","#ff7f0e","#ffbb78","#2ca02c","#98df8a","#d62728","#ff9896","#9467bd","#c5b0d5"]}}}},
     {"data":{"name":"acc"},"transform":[{"filter":"datum.p==='d' && datum.m==='NeuroLM'"}],"mark":{"type":"line","strokeWidth":2.2},
      "encoding":{"x":{"field":"x","type":"quantitative","title":null},"y":{"field":"y","type":"quantitative","title":"d"},"color":{"field":"m","type":"nominal","scale":{"domain":["BrainOmni","LaBraM","NeuroGPT","NeuroLM","EEGMamba","CBraMod","BIOT","FEMBA","BENDR","REVE"],"range":["#1f77b4","#aec7e8","#ff7f0e","#ffbb78","#2ca02c","#98df8a","#d62728","#ff9896","#9467bd","#c5b0d5"]}}}},
     {"data":{"name":"acc"},"transform":[{"filter":"datum.p==='d' && datum.m==='NeuroLM'"}],"mark":{"type":"point","filled":true,"size":36,"opacity":1},
      "encoding":{"x":{"field":"x","type":"quantitative","title":null},"y":{"field":"y","type":"quantitative","title":"d"},"color":{"field":"m","type":"nominal","scale":{"domain":["BrainOmni","LaBraM","NeuroGPT","NeuroLM","EEGMamba","CBraMod","BIOT","FEMBA","BENDR","REVE"],"range":["#1f77b4","#aec7e8","#ff7f0e","#ffbb78","#2ca02c","#98df8a","#d62728","#ff9896","#9467bd","#c5b0d5"]}}}},
     {"data":{"values":[{}]},"mark":{"type":"rect","fill":"#ffffff","fillOpacity":0.8,"stroke":"#ffbb78","strokeWidth":0.8,"cornerRadius":2},"encoding":{"x":{"datum":0.1825,"type":"quantitative"},"x2":{"datum":0.427},"y":{"datum":0.2328,"type":"quantitative"},"y2":{"datum":0.22}}},
     {"data":{"values":[{}]},"mark":{"type":"text","text":"SOTA: NeuroLM","align":"left","baseline":"middle","dx":3,"fontSize":6,"fontWeight":"bold","color":"#ffbb78"},"encoding":{"x":{"datum":0.1825,"type":"quantitative"},"y":{"datum":0.2264,"type":"quantitative"}}},
     {"data":{"name":"stars"},"transform":[{"filter":"datum.p==='d'"}],"mark":{"type":"text","fontSize":7,"baseline":"middle","align":"center"},
      "encoding":{"x":{"field":"x","type":"quantitative","title":null},"y":{"field":"y","type":"quantitative","title":"d"},"text":{"field":"s"},"color":{"field":"m","type":"nominal","scale":{"domain":["BrainOmni","LaBraM","NeuroGPT","NeuroLM","EEGMamba","CBraMod","BIOT","FEMBA","BENDR","REVE"],"range":["#1f77b4","#aec7e8","#ff7f0e","#ffbb78","#2ca02c","#98df8a","#d62728","#ff9896","#9467bd","#c5b0d5"]}}}}
    ]},
   {"width":159,"height":130,"view":{"fill":"#fef4ee","stroke":null},
    "title":{"text":["Naturalistic Stimulus Decoding","Broderick-reverse"]},
    "layer":[
     {"data":{"values":[{}]},"mark":{"type":"rule","strokeDash":[4,2],"strokeWidth":1,"color":"#f5ad88"},"encoding":{"y":{"datum":0.5,"type":"quantitative","scale":{"domain":[0.435,0.822],"nice":false,"zero":false},"axis":{"values":[0.45,0.5,0.55,0.6,0.65,0.7,0.75,0.8],"tickCount":8,"format":".2f","labelOverlap":false,"grid":true,"title":"e","titleAngle":0,"titleX":-7,"titleY":-16,"titleFontWeight":"bold","titleFontSize":7.5,"titleAlign":"center","titleBaseline":"middle"}}}},
     {"data":{"values":[{}]},"mark":{"type":"text","text":"chance","align":"right","baseline":"middle","dx":-2,"dy":5,"fontSize":5.5,"color":"#f5ad88"},"encoding":{"x":{"datum":0.83,"type":"quantitative"},"y":{"datum":0.5,"type":"quantitative"}}},
     {"data":{"name":"acc"},"transform":[{"filter":"datum.p==='e' && datum.m!=='CBraMod'"}],"mark":{"type":"errorbar","ticks":true,"opacity":0.45,"thickness":0.8},
      "encoding":{"x":{"field":"x","type":"quantitative","title":null},"y":{"field":"y","type":"quantitative","title":"e"},"yError":{"field":"e"},"color":{"field":"m","type":"nominal","scale":{"domain":["BrainOmni","LaBraM","NeuroGPT","NeuroLM","EEGMamba","CBraMod","BIOT","FEMBA","BENDR","REVE"],"range":["#1f77b4","#aec7e8","#ff7f0e","#ffbb78","#2ca02c","#98df8a","#d62728","#ff9896","#9467bd","#c5b0d5"]}}}},
     {"data":{"name":"acc"},"transform":[{"filter":"datum.p==='e' && datum.m!=='CBraMod'"}],"mark":{"type":"line","strokeWidth":1,"opacity":0.65},
      "encoding":{"x":{"field":"x","type":"quantitative","title":null,"scale":{"domain":[0.17,0.83],"nice":false,"zero":false},"axis":{"values":[0.2,0.4,0.6,0.8],"format":".1f","title":null}},
       "y":{"field":"y","type":"quantitative","title":"e","axis":{"values":[0.45,0.5,0.55,0.6,0.65,0.7,0.75,0.8],"tickCount":8,"format":".2f","labelOverlap":false,"grid":true,"title":"e","titleAngle":0,"titleX":-7,"titleY":-16,"titleFontWeight":"bold","titleFontSize":7.5,"titleAlign":"center","titleBaseline":"middle"}},
       "color":{"field":"m","type":"nominal","scale":{"domain":["BrainOmni","LaBraM","NeuroGPT","NeuroLM","EEGMamba","CBraMod","BIOT","FEMBA","BENDR","REVE"],"range":["#1f77b4","#aec7e8","#ff7f0e","#ffbb78","#2ca02c","#98df8a","#d62728","#ff9896","#9467bd","#c5b0d5"]}}}},
     {"data":{"name":"acc"},"transform":[{"filter":"datum.p==='e' && datum.m!=='CBraMod'"}],"mark":{"type":"point","filled":true,"size":10,"opacity":0.8},
      "encoding":{"x":{"field":"x","type":"quantitative","title":null},"y":{"field":"y","type":"quantitative","title":"e"},"color":{"field":"m","type":"nominal","scale":{"domain":["BrainOmni","LaBraM","NeuroGPT","NeuroLM","EEGMamba","CBraMod","BIOT","FEMBA","BENDR","REVE"],"range":["#1f77b4","#aec7e8","#ff7f0e","#ffbb78","#2ca02c","#98df8a","#d62728","#ff9896","#9467bd","#c5b0d5"]}}}},
     {"data":{"name":"acc"},"transform":[{"filter":"datum.p==='e' && datum.m==='CBraMod'"}],"mark":{"type":"errorbar","ticks":true,"thickness":1},
      "encoding":{"x":{"field":"x","type":"quantitative","title":null},"y":{"field":"y","type":"quantitative","title":"e"},"yError":{"field":"e"},"color":{"field":"m","type":"nominal","scale":{"domain":["BrainOmni","LaBraM","NeuroGPT","NeuroLM","EEGMamba","CBraMod","BIOT","FEMBA","BENDR","REVE"],"range":["#1f77b4","#aec7e8","#ff7f0e","#ffbb78","#2ca02c","#98df8a","#d62728","#ff9896","#9467bd","#c5b0d5"]}}}},
     {"data":{"name":"acc"},"transform":[{"filter":"datum.p==='e' && datum.m==='CBraMod'"}],"mark":{"type":"line","strokeWidth":2.2},
      "encoding":{"x":{"field":"x","type":"quantitative","title":null},"y":{"field":"y","type":"quantitative","title":"e"},"color":{"field":"m","type":"nominal","scale":{"domain":["BrainOmni","LaBraM","NeuroGPT","NeuroLM","EEGMamba","CBraMod","BIOT","FEMBA","BENDR","REVE"],"range":["#1f77b4","#aec7e8","#ff7f0e","#ffbb78","#2ca02c","#98df8a","#d62728","#ff9896","#9467bd","#c5b0d5"]}}}},
     {"data":{"name":"acc"},"transform":[{"filter":"datum.p==='e' && datum.m==='CBraMod'"}],"mark":{"type":"point","filled":true,"size":36,"opacity":1},
      "encoding":{"x":{"field":"x","type":"quantitative","title":null},"y":{"field":"y","type":"quantitative","title":"e"},"color":{"field":"m","type":"nominal","scale":{"domain":["BrainOmni","LaBraM","NeuroGPT","NeuroLM","EEGMamba","CBraMod","BIOT","FEMBA","BENDR","REVE"],"range":["#1f77b4","#aec7e8","#ff7f0e","#ffbb78","#2ca02c","#98df8a","#d62728","#ff9896","#9467bd","#c5b0d5"]}}}},
     {"data":{"values":[{}]},"mark":{"type":"rect","fill":"#ffffff","fillOpacity":0.8,"stroke":"#98df8a","strokeWidth":0.8,"cornerRadius":2},"encoding":{"x":{"datum":0.1825,"type":"quantitative"},"x2":{"datum":0.419},"y":{"datum":0.8131,"type":"quantitative"},"y2":{"datum":0.7773}}},
     {"data":{"values":[{}]},"mark":{"type":"text","text":"SOTA: CBraMod","align":"left","baseline":"middle","dx":3,"fontSize":6,"fontWeight":"bold","color":"#98df8a"},"encoding":{"x":{"datum":0.1825,"type":"quantitative"},"y":{"datum":0.7952,"type":"quantitative"}}}
    ]},
   {"width":159,"height":130,"view":{"fill":"#fdeef2","stroke":null},
    "title":{"text":["Interaction & Control","PhysioNet-MI"]},
    "layer":[
     {"data":{"values":[{}]},"mark":{"type":"rule","strokeDash":[4,2],"strokeWidth":1,"color":"#f07a96"},"encoding":{"y":{"datum":0.25,"type":"quantitative","scale":{"domain":[0.243,0.347],"nice":false,"zero":false},"axis":{"values":[0.26,0.28,0.3,0.32,0.34],"tickCount":5,"format":".2f","labelOverlap":false,"grid":true,"title":"f","titleAngle":0,"titleX":-7,"titleY":-16,"titleFontWeight":"bold","titleFontSize":7.5,"titleAlign":"center","titleBaseline":"middle"}}}},
     {"data":{"values":[{}]},"mark":{"type":"text","text":"chance","align":"right","baseline":"middle","dx":-2,"dy":5,"fontSize":5.5,"color":"#f07a96"},"encoding":{"x":{"datum":0.83,"type":"quantitative"},"y":{"datum":0.25,"type":"quantitative"}}},
     {"data":{"name":"acc"},"transform":[{"filter":"datum.p==='f' && datum.m!=='BrainOmni'"}],"mark":{"type":"errorbar","ticks":true,"opacity":0.45,"thickness":0.8},
      "encoding":{"x":{"field":"x","type":"quantitative","title":null},"y":{"field":"y","type":"quantitative","title":"f"},"yError":{"field":"e"},"color":{"field":"m","type":"nominal","scale":{"domain":["BrainOmni","LaBraM","NeuroGPT","NeuroLM","EEGMamba","CBraMod","BIOT","FEMBA","BENDR","REVE"],"range":["#1f77b4","#aec7e8","#ff7f0e","#ffbb78","#2ca02c","#98df8a","#d62728","#ff9896","#9467bd","#c5b0d5"]}}}},
     {"data":{"name":"acc"},"transform":[{"filter":"datum.p==='f' && datum.m!=='BrainOmni'"}],"mark":{"type":"line","strokeWidth":1,"opacity":0.65},
      "encoding":{"x":{"field":"x","type":"quantitative","title":null,"scale":{"domain":[0.17,0.83],"nice":false,"zero":false},"axis":{"values":[0.2,0.4,0.6,0.8],"format":".1f","title":null}},
       "y":{"field":"y","type":"quantitative","title":"f","axis":{"values":[0.26,0.28,0.3,0.32,0.34],"tickCount":5,"format":".2f","labelOverlap":false,"grid":true,"title":"f","titleAngle":0,"titleX":-7,"titleY":-16,"titleFontWeight":"bold","titleFontSize":7.5,"titleAlign":"center","titleBaseline":"middle"}},
       "color":{"field":"m","type":"nominal","scale":{"domain":["BrainOmni","LaBraM","NeuroGPT","NeuroLM","EEGMamba","CBraMod","BIOT","FEMBA","BENDR","REVE"],"range":["#1f77b4","#aec7e8","#ff7f0e","#ffbb78","#2ca02c","#98df8a","#d62728","#ff9896","#9467bd","#c5b0d5"]}}}},
     {"data":{"name":"acc"},"transform":[{"filter":"datum.p==='f' && datum.m!=='BrainOmni'"}],"mark":{"type":"point","filled":true,"size":10,"opacity":0.8},
      "encoding":{"x":{"field":"x","type":"quantitative","title":null},"y":{"field":"y","type":"quantitative","title":"f"},"color":{"field":"m","type":"nominal","scale":{"domain":["BrainOmni","LaBraM","NeuroGPT","NeuroLM","EEGMamba","CBraMod","BIOT","FEMBA","BENDR","REVE"],"range":["#1f77b4","#aec7e8","#ff7f0e","#ffbb78","#2ca02c","#98df8a","#d62728","#ff9896","#9467bd","#c5b0d5"]}}}},
     {"data":{"name":"acc"},"transform":[{"filter":"datum.p==='f' && datum.m==='BrainOmni'"}],"mark":{"type":"errorbar","ticks":true,"thickness":1},
      "encoding":{"x":{"field":"x","type":"quantitative","title":null},"y":{"field":"y","type":"quantitative","title":"f"},"yError":{"field":"e"},"color":{"field":"m","type":"nominal","scale":{"domain":["BrainOmni","LaBraM","NeuroGPT","NeuroLM","EEGMamba","CBraMod","BIOT","FEMBA","BENDR","REVE"],"range":["#1f77b4","#aec7e8","#ff7f0e","#ffbb78","#2ca02c","#98df8a","#d62728","#ff9896","#9467bd","#c5b0d5"]}}}},
     {"data":{"name":"acc"},"transform":[{"filter":"datum.p==='f' && datum.m==='BrainOmni'"}],"mark":{"type":"line","strokeWidth":2.2},
      "encoding":{"x":{"field":"x","type":"quantitative","title":null},"y":{"field":"y","type":"quantitative","title":"f"},"color":{"field":"m","type":"nominal","scale":{"domain":["BrainOmni","LaBraM","NeuroGPT","NeuroLM","EEGMamba","CBraMod","BIOT","FEMBA","BENDR","REVE"],"range":["#1f77b4","#aec7e8","#ff7f0e","#ffbb78","#2ca02c","#98df8a","#d62728","#ff9896","#9467bd","#c5b0d5"]}}}},
     {"data":{"name":"acc"},"transform":[{"filter":"datum.p==='f' && datum.m==='BrainOmni'"}],"mark":{"type":"square","filled":true,"size":36,"opacity":1},
      "encoding":{"x":{"field":"x","type":"quantitative","title":null},"y":{"field":"y","type":"quantitative","title":"f"},"color":{"field":"m","type":"nominal","scale":{"domain":["BrainOmni","LaBraM","NeuroGPT","NeuroLM","EEGMamba","CBraMod","BIOT","FEMBA","BENDR","REVE"],"range":["#1f77b4","#aec7e8","#ff7f0e","#ffbb78","#2ca02c","#98df8a","#d62728","#ff9896","#9467bd","#c5b0d5"]}}}},
     {"data":{"values":[{}]},"mark":{"type":"rect","fill":"#ffffff","fillOpacity":0.8,"stroke":"#1f77b4","strokeWidth":0.8,"cornerRadius":2},"encoding":{"x":{"datum":0.1825,"type":"quantitative"},"x2":{"datum":0.444},"y":{"datum":0.3446,"type":"quantitative"},"y2":{"datum":0.335}}},
     {"data":{"values":[{}]},"mark":{"type":"text","text":"SOTA: BrainOmni","align":"left","baseline":"middle","dx":3,"fontSize":6,"fontWeight":"bold","color":"#1f77b4"},"encoding":{"x":{"datum":0.1825,"type":"quantitative"},"y":{"datum":0.3398,"type":"quantitative"}}},
     {"data":{"name":"stars"},"transform":[{"filter":"datum.p==='f'"}],"mark":{"type":"text","fontSize":7,"baseline":"middle","align":"center"},
      "encoding":{"x":{"field":"x","type":"quantitative","title":null},"y":{"field":"y","type":"quantitative","title":"f"},"text":{"field":"s"},"color":{"field":"m","type":"nominal","scale":{"domain":["BrainOmni","LaBraM","NeuroGPT","NeuroLM","EEGMamba","CBraMod","BIOT","FEMBA","BENDR","REVE"],"range":["#1f77b4","#aec7e8","#ff7f0e","#ffbb78","#2ca02c","#98df8a","#d62728","#ff9896","#9467bd","#c5b0d5"]}}}}
    ]}
  ]
 }]
}]
}
